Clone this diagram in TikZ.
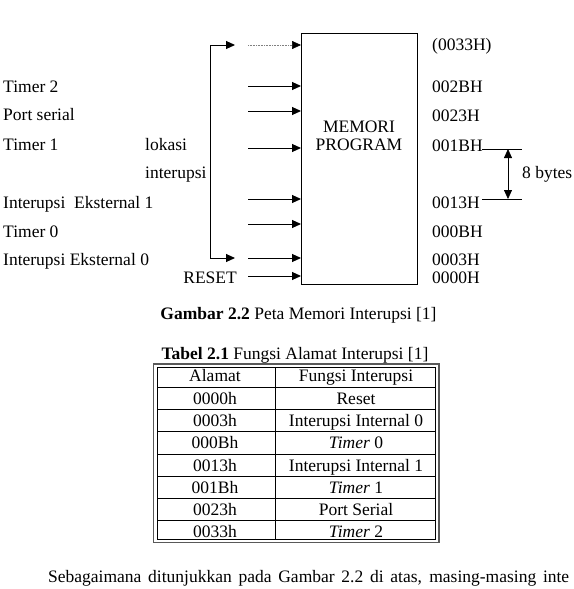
\documentclass[tikz,border=0pt]{standalone}
\usepackage{fontspec}
\setmainfont{Liberation Serif}
\usetikzlibrary{arrows.meta}
\begin{document}
\begin{tikzpicture}[x=1pt,y=-1pt, font=\fontsize{17.5}{18}\selectfont,
  lbl/.style={inner sep=0pt, anchor=base west},
  ctr/.style={inner sep=0pt, anchor=base},
  tip/.style={-{Triangle[length=9pt,width=8pt,color=black]}},
  arr/.style={tip, line width=1pt},
  thin line/.style={line width=0.8pt},
]
\useasboundingbox (0,0) rectangle (573,589);
% memory box
\node[draw, line width=1.4pt, minimum width=116pt, minimum height=251pt, inner sep=0pt, anchor=north west] (mem) at (301,33) {};
\node[align=center, inner sep=0pt] (memtxt) at (359,136) {MEMORI\\PROGRAM};
% arrows into memory
\coordinate (s0) at (248,45);
\coordinate (s1) at (248,86);
\coordinate (s2) at (248,111);
\coordinate (s3) at (248,148);
\coordinate (s4) at (248,199);
\coordinate (s5) at (248,224);
\coordinate (s6) at (248,258);
\coordinate (s7) at (248,276);
\draw[tip, densely dotted, gray, line width=0.6pt] (s0) -- (s0 -| mem.west);
\foreach \i in {1,...,7} \draw[arr] (s\i) -- (s\i -| mem.west);
% bracket
\coordinate (bt) at (235,45);
\coordinate (bb) at (235,258);
\draw[line width=1pt, {Triangle[length=9pt,width=8pt]}-{Triangle[length=9pt,width=8pt]}] (bb) -- (210,258) -- (210,45) -- (bt);
% left labels
\node[lbl] (t2) at (3,92.5) {Timer 2};
\node[lbl] (ps) at (3,120.5) {Port serial};
\node[lbl] (t1) at (3,150.5) {Timer 1};
\node[lbl] (ie1) at (3,208.5) {Interupsi\ \ Eksternal 1};
\node[lbl] (t0) at (3,237.5) {Timer 0};
\node[lbl] (ie0) at (3,265.5) {Interupsi Eksternal 0};
\node[lbl] (lok) at (145,150.5) {lokasi};
\node[lbl] (int) at (145,178.5) {interupsi};
\node[inner sep=0pt, anchor=base east] (reset) at (237,283.5) {RESET};
% right labels
\node[lbl] (a33) at (432,50.5) {(0033H)};
\node[lbl] (a2b) at (432,92.5) {002BH};
\node[lbl] (a23) at (432,121.5) {0023H};
\node[lbl] (a1b) at (432,151.5) {001BH};
\node[lbl] (a13) at (432,208.5) {0013H};
\node[lbl] (a0b) at (432,237.5) {000BH};
\node[lbl] (a03) at (432,265.5) {0003H};
\node[lbl] (a00) at (432,283.5) {0000H};
% 8 bytes
\coordinate (h1) at (482,149);
\coordinate (h2) at (482,199);
\draw[thin line] (h1) -- ++(40,0);
\draw[thin line] (h2) -- ++(40,0);
\coordinate (v1) at (508,149);
\coordinate (v2) at (508,199);
\draw[thin line, {Triangle[length=9pt,width=8pt]}-{Triangle[length=9pt,width=8pt]}] (v1) -- (v2);
\node[lbl] (bytes) at (522,178.5) {8 bytes};
% caption
\node[ctr] (cap) at (298.5,319.5) {\textbf{Gambar 2.2} Peta Memori Interupsi [1]};
\node[ctr] (tcap) at (295,359.5) {\textbf{Tabel 2.1} Fungsi Alamat Interupsi [1]};
% table
\draw[line width=1.3pt, gray!70!black] (153.5,364) rectangle (439,542.5);
\draw[line width=0.7pt] (157,367.5) rectangle (435.5,539);
\foreach \yy in {387,409,431,454,476,498,520} \draw[line width=0.7pt] (157,\yy) -- (435.5,\yy);
\draw[line width=0.7pt] (275,367.5) -- (275,539);
\foreach \yy/\a/\f in {381.5/Alamat/Fungsi Interupsi, 404/0000h/Reset, 426/0003h/Interupsi Internal 0, 448.5/000Bh/\textit{Timer} 0, 471/0013h/Interupsi Internal 1, 493/001Bh/\textit{Timer} 1, 515/0023h/Port Serial, 537/0033h/\textit{Timer} 2}
{
  \node[ctr] at (215,\yy) {\a};
  \node[ctr] at (356,\yy) {\f};
}
% body text
\node[inner sep=0pt, anchor=base west] (body) at (48,582) {\makebox[521pt][s]{Sebagaimana ditunjukkan pada Gambar 2.2 di atas, masing-masing inte}};
\end{tikzpicture}
\end{document}
